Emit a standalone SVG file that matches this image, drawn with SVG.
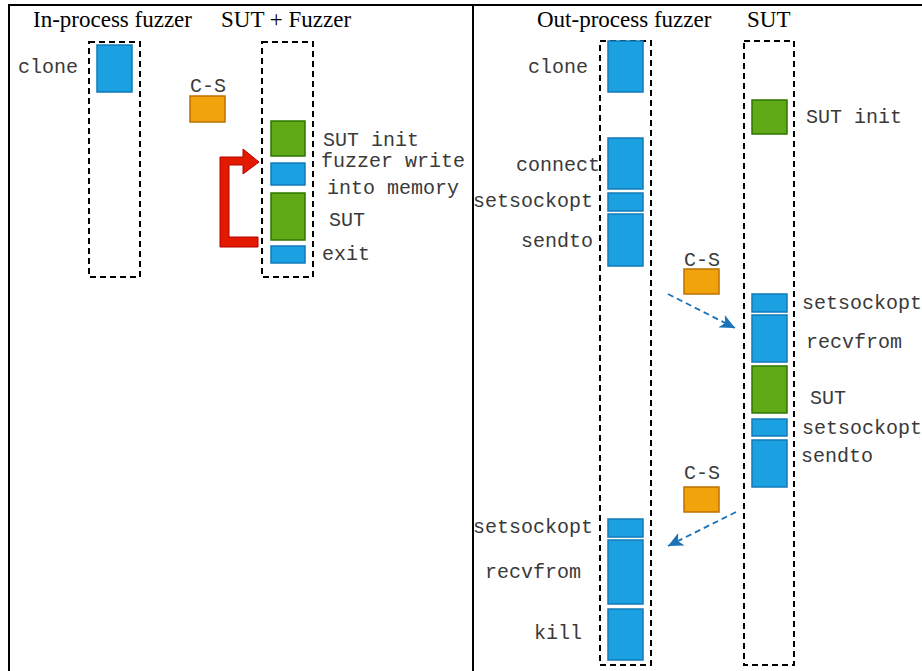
<svg xmlns="http://www.w3.org/2000/svg" width="922" height="671" viewBox="0 0 922 671">
  <style>
    .title { font-family: "Liberation Serif", "Times New Roman", serif; font-size: 23px; fill: #000; }
    .lbl { font-family: "Liberation Mono", "Courier New", monospace; font-size: 20px; fill: #3a3a3a; }
    .lane { fill: none; stroke: #000; stroke-width: 2; stroke-dasharray: 6 4; }
    .call { fill: #1ba1e2; stroke: #1279b8; stroke-width: 1.5; }
    .sut { fill: #60a917; stroke: #2d7600; stroke-width: 1.5; }
    .cs { fill: #f0a30a; stroke: #bd7000; stroke-width: 1.5; }
    .flow { fill: none; stroke: #1a72b8; stroke-width: 1.8; stroke-dasharray: 6 4; }
  </style>
  <defs>
    <marker id="arrowBlue" markerWidth="15" markerHeight="14" refX="15" refY="7" orient="auto" markerUnits="userSpaceOnUse" viewBox="0 0 15 14">
      <path d="M0,0 L15,7 L0,14 L4,7 Z" fill="#1a72b8"/>
    </marker>
  </defs>

  <rect width="922" height="671" fill="#fff"/>

  <!-- panel frame -->
  <g id="frame" stroke="#000" stroke-width="2" fill="none">
    <path d="M9,671 V5 H922"/>
    <path d="M473,5 V671"/>
  </g>

  <!-- left panel: in-process -->
  <text class="title" x="33" y="27">In-process fuzzer</text>
  <text class="title" x="221" y="27">SUT + Fuzzer</text>

  <g id="inproc-lane">
    <rect class="lane" x="89" y="42" width="51" height="235"/>
    <rect class="call" x="97" y="45" width="35" height="47"/>
    <text class="lbl" x="18" y="73">clone</text>
  </g>

  <g id="inproc-cs">
    <text class="lbl" x="190" y="92">C-S</text>
    <rect class="cs" x="190" y="96" width="35" height="26"/>
  </g>

  <g id="sutfuzzer-lane">
    <rect class="lane" x="262" y="42" width="51" height="235"/>
    <rect class="sut" x="271" y="121" width="34" height="35"/>
    <rect class="call" x="271" y="163" width="34" height="22"/>
    <rect class="sut" x="271" y="193" width="34" height="47"/>
    <rect class="call" x="271" y="246" width="34" height="17"/>
    <text class="lbl" x="323" y="146">SUT init</text>
    <text class="lbl" x="321" y="167">fuzzer write</text>
    <text class="lbl" x="327" y="194">into memory</text>
    <text class="lbl" x="329" y="226">SUT</text>
    <text class="lbl" x="322" y="260">exit</text>
  </g>

  <!-- right panel: out-process -->
  <text class="title" x="537" y="27">Out-process fuzzer</text>
  <text class="title" x="747" y="27">SUT</text>

  <g id="outproc-lane">
    <rect class="lane" x="600" y="41" width="51" height="624"/>
    <rect class="call" x="608" y="41" width="35" height="51"/>
    <rect class="call" x="608" y="138" width="35" height="51"/>
    <rect class="call" x="608" y="193" width="35" height="18"/>
    <rect class="call" x="608" y="214" width="35" height="52"/>
    <rect class="call" x="608" y="519" width="35" height="18"/>
    <rect class="call" x="608" y="540" width="35" height="64"/>
    <rect class="call" x="608" y="609" width="35" height="51"/>
    <text class="lbl" x="528" y="73">clone</text>
    <text class="lbl" x="516" y="171">connect</text>
    <text class="lbl" x="473" y="207">setsockopt</text>
    <text class="lbl" x="521" y="247">sendto</text>
    <text class="lbl" x="473" y="533">setsockopt</text>
    <text class="lbl" x="485" y="578">recvfrom</text>
    <text class="lbl" x="534" y="639">kill</text>
  </g>

  <g id="sut-lane">
    <rect class="lane" x="744" y="41" width="50" height="624"/>
    <rect class="sut" x="752" y="100" width="35" height="34"/>
    <rect class="call" x="752" y="294" width="35" height="18"/>
    <rect class="call" x="752" y="315" width="35" height="47"/>
    <rect class="sut" x="752" y="366" width="35" height="47"/>
    <rect class="call" x="752" y="419" width="35" height="17"/>
    <rect class="call" x="752" y="440" width="35" height="47"/>
    <text class="lbl" x="806" y="123">SUT init</text>
    <text class="lbl" x="802" y="309">setsockopt</text>
    <text class="lbl" x="806" y="348">recvfrom</text>
    <text class="lbl" x="810" y="404">SUT</text>
    <text class="lbl" x="802" y="434">setsockopt</text>
    <text class="lbl" x="801" y="462">sendto</text>
  </g>

  <g id="outproc-cs1">
    <text class="lbl" x="684" y="266">C-S</text>
    <rect class="cs" x="684" y="269" width="35" height="25"/>
  </g>
  <g id="outproc-cs2">
    <text class="lbl" x="684" y="479">C-S</text>
    <rect class="cs" x="684" y="487" width="35" height="25"/>
  </g>

  <!-- connectors -->
  <g id="connectors">
    <path d="M220,157 H243 V149 L259,162 L243,174 V165 H229 V237 H258 V247 H220 Z" fill="#e31a00" stroke="#b30000" stroke-width="1"/>
    <path class="flow" d="M668,294 L735,328" marker-end="url(#arrowBlue)"/>
    <path class="flow" d="M736,512 L668,546" marker-end="url(#arrowBlue)"/>
  </g>
</svg>
